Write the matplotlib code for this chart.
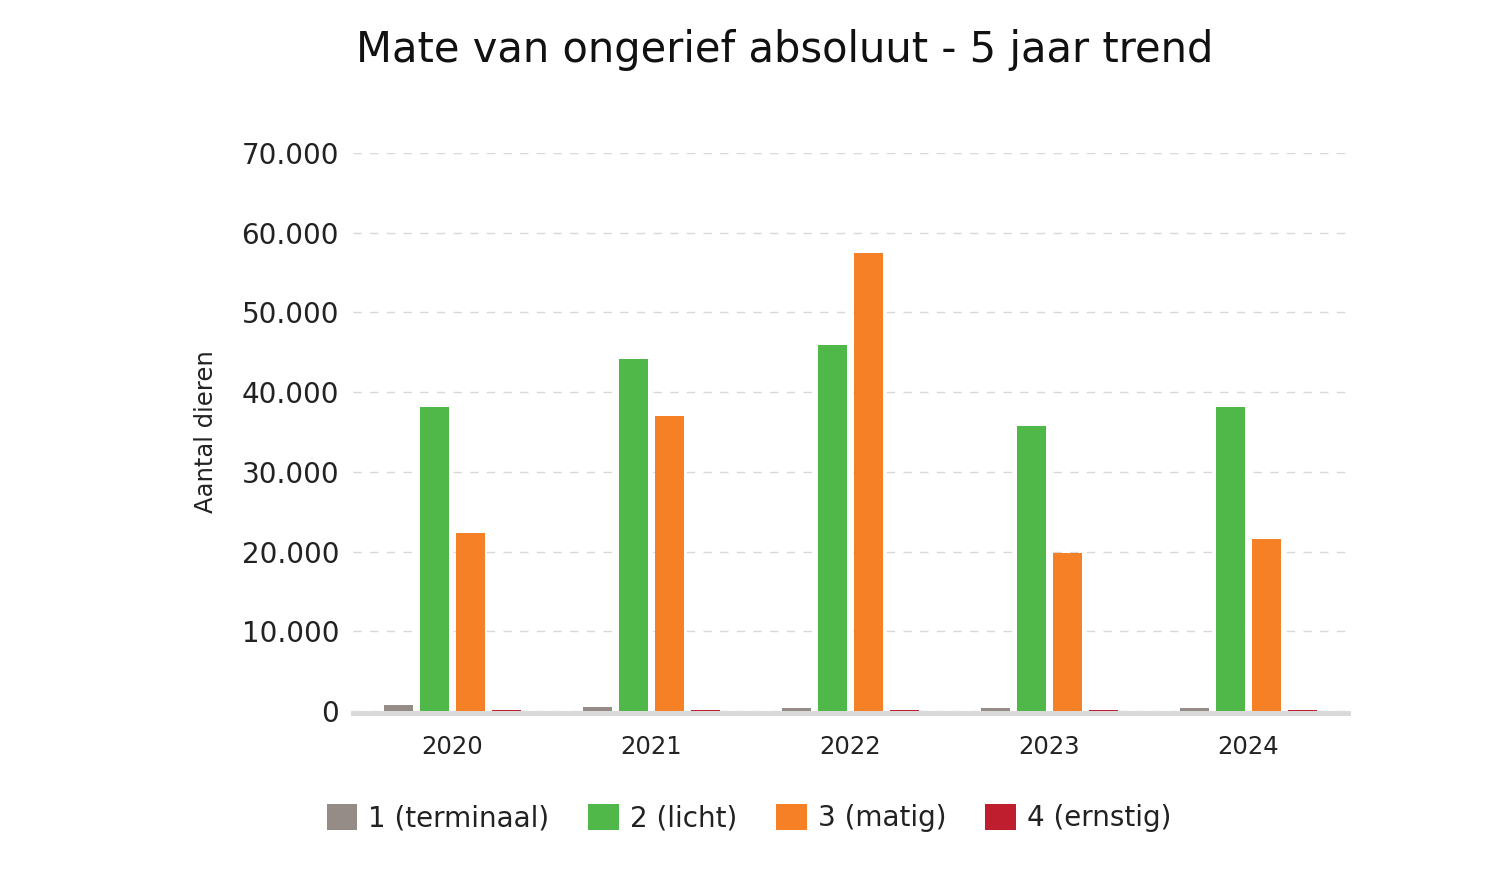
import matplotlib.pyplot as plt
import numpy as np
from matplotlib.patches import Patch
from matplotlib.ticker import FuncFormatter

YEARS = ["2020", "2021", "2022", "2023", "2024"]
SERIES = ["1 (terminaal)", "2 (licht)", "3 (matig)", "4 (ernstig)"]
TERMINAAL = [750, 500, 380, 380, 380]
LICHT = [38100, 44200, 45900, 35800, 38100]
MATIG = [22300, 37000, 57500, 19800, 21600]
ERNSTIG = [180, 180, 180, 180, 180]
COLORS = ["#958b87", "#50b848", "#f58025", "#be1e2d"]

plt.rcParams["font.family"] = "DejaVu Sans"

fig = plt.figure(figsize=(15, 8.74), dpi=100)
ax = fig.add_axes([353 / 1500, 1 - 711 / 874, (1348 - 353) / 1500, (711 - 153) / 874])

x = np.arange(len(YEARS))
width = 0.145
step = 0.18
values = [TERMINAAL, LICHT, MATIG, ERNSTIG]
for i, (vals, col) in enumerate(zip(values, COLORS)):
    ax.bar(x + (i - 1.5) * step, vals, width=width, color=col, zorder=3, linewidth=0)

ax.set_xlim(-0.5, len(YEARS) - 0.5)
ax.set_ylim(0, 70000)
ax.set_yticks(np.arange(0, 70001, 10000))
ax.yaxis.set_major_formatter(FuncFormatter(lambda v, p: f"{int(v):,}".replace(",", ".")))
ax.set_xticks(x)
ax.set_xticklabels(YEARS)

for s in ["top", "right", "left"]:
    ax.spines[s].set_visible(False)
# thick grey baseline sits just under the bars
ax.spines["bottom"].set_color("#d8d8d8")
ax.spines["bottom"].set_linewidth(3.5)
ax.spines["bottom"].set_position(("outward", 1.6))

ax.tick_params(axis="y", length=0, labelsize=20, pad=10, colors="#222222")
ax.tick_params(axis="x", length=0, labelsize=17.5, pad=16, colors="#222222")
ax.grid(axis="y", color="#d8d8d8", linestyle=(0, (6, 6)), linewidth=1, zorder=0)
ax.set_axisbelow(True)

ax.set_ylabel("Aantal dieren", fontsize=17.5, color="#222222", labelpad=17)

fig.text(785 / 1500, 1 - 50 / 874, "Mate van ongerief absoluut - 5 jaar trend",
         ha="center", va="center", fontsize=30, color="#111111")

handles = [Patch(facecolor=c, edgecolor="none", label=l) for c, l in zip(COLORS, SERIES)]
fig.legend(handles=handles, loc="center", bbox_to_anchor=(749 / 1500, 1 - 818 / 874),
           ncol=4, frameon=False, fontsize=20, handlelength=1.1, handleheight=1.1,
           handletextpad=0.4, columnspacing=1.4, labelcolor="#222222")

fig.savefig("out.png", dpi=100)
